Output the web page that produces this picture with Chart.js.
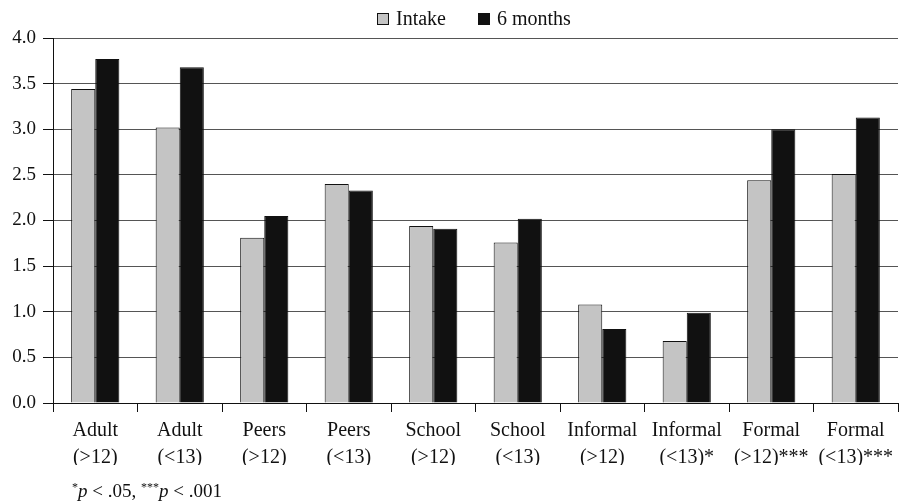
<!DOCTYPE html>
<html>
<head>
<meta charset="utf-8">
<script src="https://cdn.jsdelivr.net/npm/chart.js@4"></script>
<style>
  body { margin: 0; background: #fff; }
  #wrap { position: relative; width: 904px; height: 503px; font-family: 'Liberation Serif', 'Times New Roman', serif; color: #111; }
  .lg-box { position: absolute; top: 13px; width: 10px; height: 10px; border: 1px solid #111; }
  .lg-text { position: absolute; top: 8px; font-size: 20px; line-height: 20px; white-space: nowrap; }
  #note {
    position: absolute; left: 72px; top: 481px;
    font-size: 19px; line-height: 19px; white-space: nowrap;
  }
  #note sup { font-size: 12px; line-height: 0; vertical-align: 6px; }
</style>
</head>
<body>
<div id="wrap">
  <canvas id="chart"></canvas>
  <div id="legend"></div>
  <div id="note"><sup>*</sup><i>p</i> &lt; .05, <sup>***</sup><i>p</i> &lt; .001</div>
</div>
<script>
// categories and values
var categories = [
  ["Adult", "(>12)"], ["Adult", "(<13)"],
  ["Peers", "(>12)"], ["Peers", "(<13)"],
  ["School", "(>12)"], ["School", "(<13)"],
  ["Informal", "(>12)"], ["Informal", "(<13)*"],
  ["Formal", "(>12)***"], ["Formal", "(<13)***"]
];
var intake = [3.44, 3.02, 1.81, 2.40, 1.94, 1.76, 1.08, 0.68, 2.44, 2.51];
var sixMonths = [3.77, 3.68, 2.05, 2.33, 1.91, 2.02, 0.81, 0.99, 3.00, 3.13];
var yTicks = [0, 0.5, 1, 1.5, 2, 2.5, 3, 3.5, 4];

var serif = "'Liberation Serif', 'Times New Roman', serif";

// legend is placed by hand so the spacing matches the figure
function buildLegend(chart) {
  var holder = document.getElementById('legend');
  var boxX = [377, 478];
  chart.data.datasets.forEach(function(ds, i) {
    var box = document.createElement('div');
    box.className = 'lg-box';
    box.style.left = boxX[i] + 'px';
    box.style.background = ds.backgroundColor;
    holder.appendChild(box);
    var txt = document.createElement('div');
    txt.className = 'lg-text';
    txt.style.left = (boxX[i] + 19) + 'px';
    txt.textContent = ds.label;
    holder.appendChild(txt);
  });
}

document.addEventListener('DOMContentLoaded', function() {
  var ctx = document.getElementById('chart').getContext('2d');
  var chart = new Chart(ctx, {
    type: 'bar',
    data: {
      labels: categories,
      datasets: [{
        label: 'Intake',
        data: intake,
        backgroundColor: '#c4c4c4',
        borderColor: '#111',
        borderWidth: 1
      }, {
        label: '6 months',
        data: sixMonths,
        backgroundColor: '#111',
        borderColor: '#111',
        borderWidth: 1
      }]
    },
    options: {
      responsive: true,
      maintainAspectRatio: false,
      animation: false,
      categoryPercentage: 0.57,
      barPercentage: 1.0,
      layout: {
        padding: { left: 0, right: 6, top: 38, bottom: 38 }
      },
      plugins: {
        legend: { display: false },
        tooltip: { enabled: false }
      },
      scales: {
        x: {
          offset: true,
          afterFit: function(scale) { scale.height = 62; },
          grid: {
            display: true,
            offset: true,
            drawOnChartArea: false,
            drawTicks: true,
            tickLength: 9,
            tickColor: '#111'
          },
          border: { color: '#111' },
          ticks: {
            color: '#111',
            maxRotation: 0,
            autoSkip: false,
            padding: 5,
            font: { family: serif, size: 20, lineHeight: 1.35 }
          }
        },
        y: {
          min: 0,
          max: 4,
          afterFit: function(scale) { scale.width = 53; },
          afterBuildTicks: function(scale) {
            scale.ticks = yTicks.map(function(v) { return { value: v }; });
          },
          grid: {
            color: '#555',
            tickColor: '#111',
            tickLength: 10
          },
          border: { color: '#111' },
          ticks: {
            color: '#111',
            padding: 7,
            font: { family: serif, size: 19 },
            callback: function(v) { return Number(v).toFixed(1); }
          }
        }
      }
    }
  });
  buildLegend(chart);
});
</script>
</body>
</html>
